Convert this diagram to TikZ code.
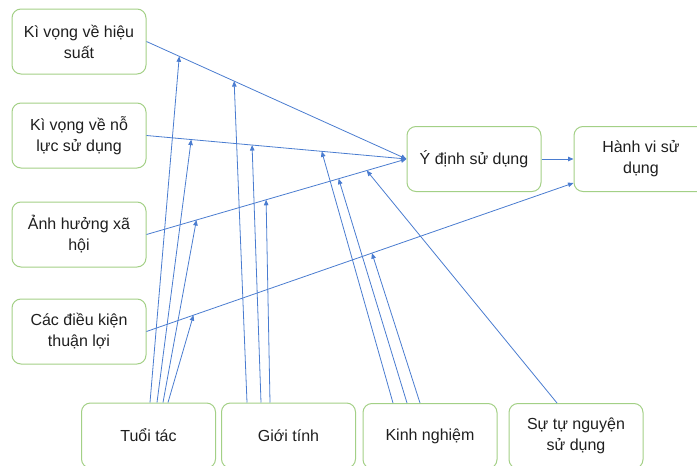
\documentclass[tikz,border=0pt]{standalone}
\usepackage{fontspec}
\setmainfont{Liberation Sans}
\usetikzlibrary{arrows.meta,calc}
\definecolor{boxgreen}{HTML}{A3D086}
\definecolor{edgeblue}{HTML}{4A7CD0}
\begin{document}
\begin{tikzpicture}%
	[x=1pt, y=-1pt,
	box/.style={draw=boxgreen, line width=1pt, rounded corners=9pt, minimum width=134pt, minimum height=65pt, inner sep=0pt, align=center, text=black!88, font=\fontsize{16}{21}\selectfont},
	edge/.style={draw=edgeblue, line width=0.8pt, -{Triangle[width=4.5pt,length=5.5pt]}}]
%
\useasboundingbox (0,0) rectangle (697,466);
\clip (0,0) rectangle (697,466);
%
%% Factors on the left
\node[box] (hs) at (79,41.5) {Kì vọng về hiệu\\suất};
\node[box] (nl) at (79,135.5) {Kì vọng về nỗ\\lực sử dụng};
\node[box] (xh) at (79,234.5) {Ảnh hưởng xã\\hội};
\node[box] (dk) at (79,331.5) {Các điều kiện\\thuận lợi};
%% Intention and behaviour
\node[box] (yd) at (474,159) {Ý định sử dụng};
\node[box] (hv) at (641,159) {Hành vi sử\\dụng};
%% Moderators at the bottom
\node[box] (tt) at (148.5,435.5) {Tuổi tác};
\node[box] (gt) at (288.5,435.5) {Giới tính};
\node[box] (kn) at (430,436) {Kinh nghiệm};
\node[box] (tn) at (576,436) {Sự tự nguyện\\sử dụng};
%
\coordinate (hvin) at ($(hv.west)+(0,24)$);
%
%% Main paths
\draw[edge] (hs.east) -- coordinate[pos=0.126] (hs1) coordinate[pos=0.337] (hs2) (yd.west);
\draw[edge] (nl.east) -- coordinate[pos=0.172] (nl1) coordinate[pos=0.406] (nl2) coordinate[pos=0.674] (nl3) (yd.west);
\draw[edge] (xh.east) -- coordinate[pos=0.192] (xh1) coordinate[pos=0.460] (xh2) coordinate[pos=0.739] (xh3) coordinate[pos=0.847] (xh4) (yd.west);
\draw[edge] (dk.east) -- coordinate[pos=0.110] (dk1) coordinate[pos=0.528] (dk2) (hvin);
\draw[edge] (yd.east) -- (hv.west);
%
%% Moderating paths
\draw[edge] ($(tt.north)+(1.5,0)$) -- (hs1);
\draw[edge] ($(tt.north)+(8.5,0)$) -- (nl1);
\draw[edge] ($(tt.north)+(14.5,0)$) -- (xh1);
\draw[edge] ($(tt.north)+(19.5,0)$) -- (dk1);
\draw[edge] ($(gt.north)+(-41.5,0)$) -- (hs2);
\draw[edge] ($(gt.north)+(-27.5,0)$) -- (nl2);
\draw[edge] ($(gt.north)+(-18.5,0)$) -- (xh2);
\draw[edge] ($(kn.north)+(-37,0)$) -- (nl3);
\draw[edge] ($(kn.north)+(-23,0)$) -- (xh3);
\draw[edge] ($(kn.north)+(-10,0)$) -- (dk2);
\draw[edge] ($(tn.north)+(-19,0)$) -- (xh4);
%
\end{tikzpicture}
\end{document}
